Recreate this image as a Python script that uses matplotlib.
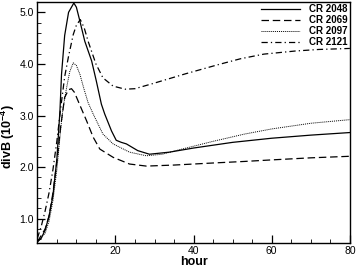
import matplotlib
matplotlib.use("Agg")
import matplotlib.pyplot as plt
from matplotlib.ticker import MultipleLocator, FixedLocator

plt.rcParams['font.family'] = ['Liberation Sans', 'DejaVu Sans']
plt.rcParams['mathtext.fontset'] = 'custom'
plt.rcParams['mathtext.bf'] = 'Liberation Sans:bold'
plt.rcParams['mathtext.rm'] = 'Liberation Sans:bold'
plt.rcParams['mathtext.default'] = 'bf'

# CR 2048 (solid)
x_2048 = [0, 1, 2, 3, 4, 5, 5.8, 6.2, 7, 8, 9.35, 10, 10.9, 12.15, 13.9, 15.1,
          16.4, 17.25, 19, 20.2, 21.5, 22.8, 25.7, 28.7, 33.8, 40, 50, 60, 70, 80]
y_2048 = [0.55, 0.62, 0.78, 1.05, 1.45, 2.15, 3.1, 3.8, 4.55, 5.0, 5.18, 5.1, 4.83,
          4.44, 4.06, 3.67, 3.22, 3.03, 2.7, 2.52, 2.48, 2.45, 2.32, 2.25, 2.29,
          2.37, 2.48, 2.56, 2.62, 2.67]

# CR 2069 (dashed)
x_2069 = [0, 2, 3, 4, 5, 6, 7, 8, 8.75, 9.5, 10.9, 12.6, 14.3, 16, 19.4, 23.6,
          27.9, 35, 45, 53, 60, 70, 80]
y_2069 = [0.55, 0.8, 1.05, 1.5, 2.1, 2.8, 3.35, 3.5, 3.52, 3.45, 3.2, 2.9, 2.58,
          2.35, 2.19, 2.06, 2.02, 2.04, 2.08, 2.11, 2.14, 2.18, 2.21]

# CR 2097 (dotted)
x_2097 = [0, 2, 3, 4, 5, 6, 6.6, 7.5, 8.3, 9.2, 10, 10.9, 12, 13, 14.3, 16.8,
          19.4, 23.6, 27.9, 32, 36, 45, 53, 60, 70, 80]
y_2097 = [0.55, 0.72, 0.95, 1.35, 1.95, 2.75, 3.15, 3.54, 3.85, 4.02, 3.97, 3.8,
          3.5, 3.25, 3.03, 2.64, 2.45, 2.29, 2.22, 2.25, 2.33, 2.5, 2.64, 2.74,
          2.85, 2.92]

# CR 2121 (dash-dot)
x_2121 = [0, 1, 2, 3, 4, 5, 6, 7, 8, 9.2, 10, 11, 12, 13, 15, 16.8, 19.4, 22.5,
          25, 29.6, 38, 46.5, 52, 58, 66, 72, 80]
y_2121 = [0.62, 0.85, 1.15, 1.5, 1.95, 2.5, 3.15, 3.75, 4.15, 4.57, 4.75, 4.86,
          4.7, 4.44, 4.0, 3.73, 3.57, 3.51, 3.52, 3.62, 3.81, 3.99, 4.1, 4.19,
          4.25, 4.28, 4.3]

fig = plt.figure(figsize=(3.57, 2.67), dpi=100)
ax = fig.add_axes([0.1045, 0.09, 0.8755, 0.9025])

ax.plot(x_2048, y_2048, color='black', lw=0.9, ls='-', label='CR 2048')
ax.plot(x_2069, y_2069, color='black', lw=0.9, ls=(0, (6, 3)), label='CR 2069')
ax.plot(x_2097, y_2097, color='black', lw=0.7, ls=(0, (1, 1)), label='CR 2097')
ax.plot(x_2121, y_2121, color='black', lw=0.9, ls=(0, (5, 2.5, 1, 2.5)), label='CR 2121')

ax.set_xlim(0, 80)
ax.set_ylim(0.53, 5.2)
ax.xaxis.set_major_locator(FixedLocator([20, 40, 60, 80]))
ax.xaxis.set_minor_locator(MultipleLocator(5))
ax.yaxis.set_major_locator(FixedLocator([1.0, 2.0, 3.0, 4.0, 5.0]))
ax.yaxis.set_minor_locator(MultipleLocator(0.2))
ax.yaxis.set_major_formatter(matplotlib.ticker.FormatStrFormatter('%.1f'))
ax.tick_params(which='both', direction='in', labelsize=7.5, width=0.9,
               top=False, right=False, pad=2.5)
ax.tick_params(which='major', length=5.5)
ax.tick_params(which='minor', length=2.8, width=0.6)
ax.tick_params(axis='x', pad=2)
for s in ax.spines.values():
    s.set_linewidth(1.0)

ax.set_xlabel('hour', fontsize=9, fontweight='bold', labelpad=0)
ax.set_ylabel(r'divB (10$^{-4}$)', fontsize=9, fontweight='bold')
ax.yaxis.set_label_coords(-0.064, 0.44)

leg = ax.legend(loc='upper right', frameon=False, handlelength=4.0,
                prop={'weight': 'bold', 'size': 7},
                labelspacing=0.12, borderaxespad=0.1, handletextpad=1.0,
                borderpad=0.1)

fig.savefig('out.png', dpi=100)
